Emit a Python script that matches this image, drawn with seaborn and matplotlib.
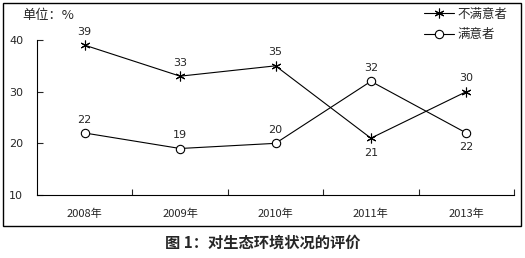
import matplotlib
matplotlib.use("Agg")
import matplotlib.pyplot as plt
import seaborn as sns
import pandas as pd
from matplotlib.patches import Rectangle

years = ["2008年", "2009年", "2010年", "2011年", "2013年"]
unsatisfied = [39, 33, 35, 21, 30]
satisfied = [22, 19, 20, 32, 22]
unsat_label_pos = ["above", "above", "above", "below", "above"]
sat_label_pos = ["above", "above", "above", "above", "below"]

sns.set_style("white")
plt.rcParams['font.family'] = ['Noto Sans CJK SC', 'DejaVu Sans']

df = pd.DataFrame({
    "pos": list(range(len(years))) * 2,
    "value": unsatisfied + satisfied,
    "series": ["不满意者"] * len(years) + ["满意者"] * len(years),
})

fig = plt.figure(figsize=(5.25, 2.58), dpi=100)
ax = fig.add_axes([37/525, 1-195/258, (514-37)/525, (195-40)/258])

d1 = df[df.series == "不满意者"]
d2 = df[df.series == "满意者"]
sns.lineplot(data=d1, x="pos", y="value", ax=ax, color="black", lw=0.8,
             marker=(6, 2, 0), markersize=7, markeredgewidth=0.8,
             markeredgecolor="black", label="不满意者")
sns.lineplot(data=d2, x="pos", y="value", ax=ax, color="black", lw=0.8,
             marker="o", markersize=6, markerfacecolor="white",
             markeredgewidth=0.8, markeredgecolor="black", label="满意者")

for i, v in enumerate(unsatisfied):
    off = 6 if unsat_label_pos[i] == "above" else -14
    ax.annotate(str(v), (i, v), xytext=(0, off), textcoords="offset points",
                ha="center", va="bottom", fontsize=8, family="DejaVu Sans")
for i, v in enumerate(satisfied):
    off = 6 if sat_label_pos[i] == "above" else -14
    ax.annotate(str(v), (i, v), xytext=(0, off), textcoords="offset points",
                ha="center", va="bottom", fontsize=8, family="DejaVu Sans")

ax.set_xlim(-0.5, len(years) - 0.5)
ax.set_ylim(10, 40)
ax.set_yticks([10, 20, 30, 40])
ax.set_yticklabels(["10", "20", "30", "40"], fontsize=8, family="DejaVu Sans")
ax.set_xticks([i + 0.5 for i in range(len(years))])
ax.set_xticklabels([])
ax.set_xticks(list(range(len(years))), minor=True)
ax.set_xticklabels(years, minor=True, fontsize=8)
ax.tick_params(axis="x", which="minor", length=0, pad=10)
ax.tick_params(axis="x", which="major", direction="in", length=4, width=0.8, bottom=True)
ax.tick_params(axis="y", direction="in", length=4, width=0.8, left=True, pad=10)
ax.set_xlabel("")
ax.set_ylabel("")
for s in ["top", "right"]:
    ax.spines[s].set_visible(False)
for s in ["left", "bottom"]:
    ax.spines[s].set_color("black")
    ax.spines[s].set_linewidth(0.8)

leg = ax.legend(loc="upper right", bbox_to_anchor=(1.01, 1.28), frameon=False,
                fontsize=9, handlelength=2.4, handletextpad=0.3, labelspacing=0.6)

fig.text(22/525, 1-15/258, "单位：%", fontsize=9.5, va="center", ha="left")

fig.patches.append(Rectangle((3/525, 1-226/258), 518/525, 223/258,
                             transform=fig.transFigure, fill=False,
                             edgecolor="black", lw=1.0))

fig.text(0.5, 1-243/258, "图 1：对生态环境状况的评价", fontsize=11,
         fontweight="bold", ha="center", va="center")

fig.savefig("out.png", dpi=100)
